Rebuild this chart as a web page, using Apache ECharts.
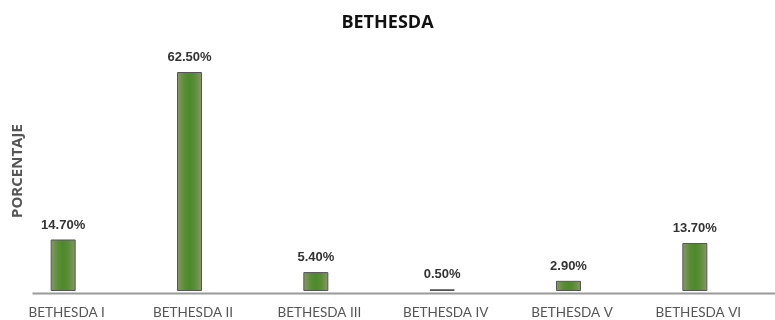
<!DOCTYPE html>
<html>
<head>
<meta charset="utf-8">
<script src="https://cdn.jsdelivr.net/npm/echarts@6/dist/echarts.min.js"></script>
<style>html,body{margin:0;padding:0;background:#fff;}#c{width:775px;height:320px;}</style>
</head>
<body>
<div id="c"></div>
<script>
const categories = ['BETHESDA I', 'BETHESDA II', 'BETHESDA III', 'BETHESDA IV', 'BETHESDA V', 'BETHESDA VI'];
const values = [14.7, 62.5, 5.4, 0.5, 2.9, 13.7];
const titleText = 'BETHESDA';
const yName = 'PORCENTAJE';

const chart = echarts.init(document.getElementById('c'));
chart.setOption({
  animation: false,
  backgroundColor: '#fff',
  title: {
    text: titleText, left: 'center', top: 9,
    textStyle: { fontFamily: 'Open Sans', fontWeight: 'bold', fontSize: 18, color: '#111' }
  },
  grid: { left: 0, right: 17, top: 72, bottom: 28, containLabel: false },
  graphic: [{
    type: 'line', left: 30, top: 291,
    shape: { x1: 0, y1: 0, x2: 745, y2: 0 },
    style: { stroke: '#9a9a9a', lineWidth: 2 }
  }, {
    type: 'text',
    rotation: Math.PI / 2,
    style: { text: yName, fill: '#555', font: 'bold 15px "Open Sans"' },
    x: 10, y: 218
  }],
  xAxis: {
    type: 'category', data: categories,
    axisLine: { show: false }, axisTick: { show: false },
    axisLabel: { color: '#555', fontFamily: 'Lato', fontSize: 13.5, margin: 15, padding: [0, 0, 0, 7], interval: 0 }
  },
  yAxis: {
    type: 'value', min: 0, max: 62.5, show: false
  },
  series: [{
    type: 'bar', data: values, barWidth: 25,
    itemStyle: {
      color: new echarts.graphic.LinearGradient(0, 0, 1, 0, [
        { offset: 0, color: '#8a9868' },
        { offset: 0.3, color: '#5a8d36' },
        { offset: 0.5, color: '#4c8a2c' },
        { offset: 0.7, color: '#5a8d36' },
        { offset: 1, color: '#8a9868' }
      ]),
      borderColor: '#555', borderWidth: 1
    },
    label: {
      show: true, position: 'top', distance: 8,
      formatter: p => p.value.toFixed(2) + '%',
      color: '#333', fontFamily: 'Liberation Sans', fontWeight: 'bold', fontSize: 13
    }
  }]
});
</script>
</body>
</html>
